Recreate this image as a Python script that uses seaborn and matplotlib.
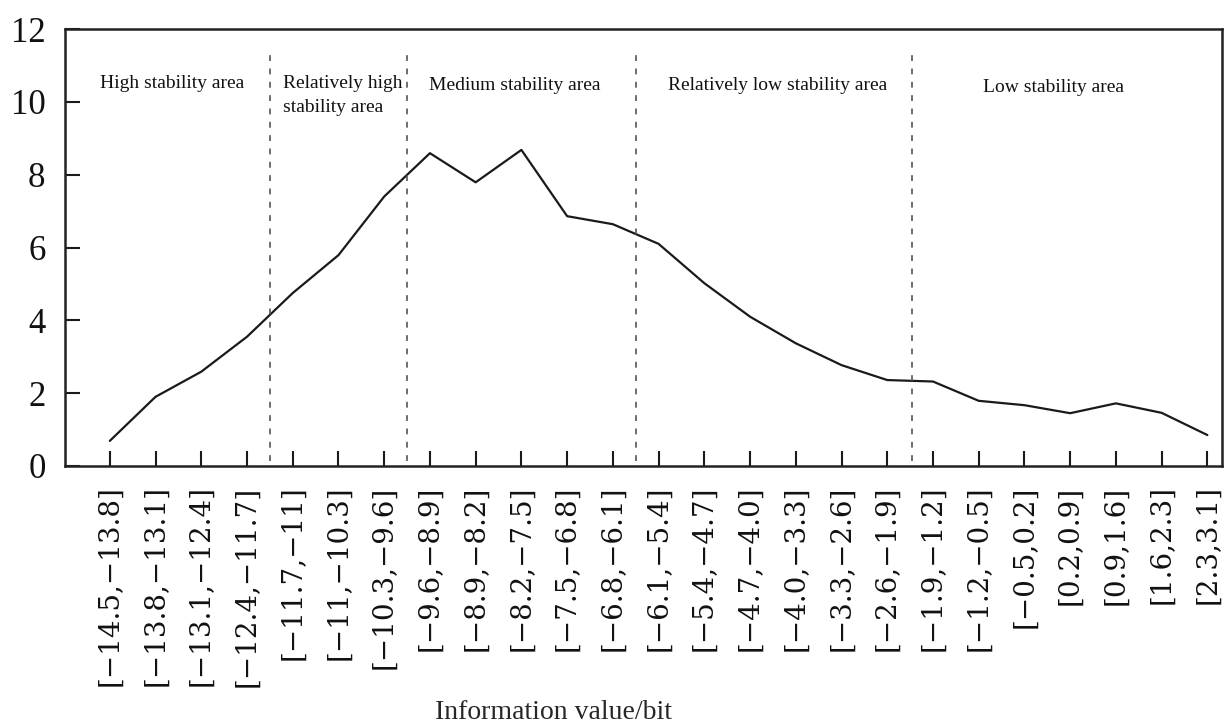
import numpy as np
import pandas as pd
import matplotlib
matplotlib.use("Agg")
import matplotlib.pyplot as plt
import seaborn as sns

# ---- data ----
intervals = ["[−14.5,−13.8]", "[−13.8,−13.1]", "[−13.1,−12.4]", "[−12.4,−11.7]",
             "[−11.7,−11]", "[−11,−10.3]", "[−10.3,−9.6]", "[−9.6,−8.9]",
             "[−8.9,−8.2]", "[−8.2,−7.5]", "[−7.5,−6.8]", "[−6.8,−6.1]",
             "[−6.1,−5.4]", "[−5.4,−4.7]", "[−4.7,−4.0]", "[−4.0,−3.3]",
             "[−3.3,−2.6]", "[−2.6,−1.9]", "[−1.9,−1.2]", "[−1.2,−0.5]",
             "[−0.5,0.2]", "[0.2,0.9]", "[0.9,1.6]", "[1.6,2.3]", "[2.3,3.1]"]
values = [0.69, 1.90, 2.59, 3.55, 4.75, 5.79, 7.40, 8.59, 7.79, 8.68,
          6.86, 6.64, 6.10, 5.02, 4.10, 3.37, 2.77, 2.36, 2.32, 1.79,
          1.67, 1.45, 1.72, 1.46, 0.85]
boundaries = [3.5, 6.5, 11.5, 17.55]
area_names = ["High stability area", "Relatively high\nstability area",
              "Medium stability area", "Relatively low stability area",
              "Low stability area"]
area_x = [-0.22, 3.78, 6.98, 12.2, 19.09]
area_y = [10.49, 10.17, 10.46, 10.46, 10.38]
y_ticks = [0, 2, 4, 6, 8, 10, 12]
x_title = "Information value/bit"

df = pd.DataFrame({"idx": np.arange(len(intervals)), "value": values})

sns.set_style("white")
plt.rcParams["font.family"] = ["Liberation Serif", "DejaVu Serif"]

fig = plt.figure(figsize=(12.32, 7.27), dpi=100)
ax = fig.add_axes([65/1232, 1-466/727, (1222-65)/1232, (466-29)/727])

sns.lineplot(data=df, x="idx", y="value", ax=ax, color="#1a1a1a", linewidth=1.6)

for b in boundaries:
    ax.plot([b, b], [0.15, 11.3], color="#555555", linewidth=1.2,
            linestyle=(0, (3.5, 4.5)))

for name, tx, ty in zip(area_names, area_x, area_y):
    ax.text(tx, ty, name, fontsize=14, ha="left", va="center",
            color="#111111", linespacing=1.5)

ax.set_xlim(-0.98, 24.32)
ax.set_ylim(0, 12)
ax.set_yticks(y_ticks)
ax.set_yticklabels([str(t) for t in y_ticks], fontsize=25)
ax.set_xticks(df["idx"])
ax.set_xticklabels(intervals, rotation=90, fontsize=20, family="DejaVu Serif")

ax.tick_params(axis="both", direction="in", length=11, width=1.5,
               color="#1a1a1a", labelcolor="#111111")
ax.tick_params(axis="x", pad=14, bottom=True, top=False)
ax.tick_params(axis="y", pad=14, left=True, right=False)

for s in ax.spines.values():
    s.set_color("#222222")
    s.set_linewidth(1.8)

ax.set_xlabel(x_title, fontsize=20)
ax.set_ylabel("")
ax.xaxis.set_label_coords(0.422, -0.535)

fig.savefig("out.png", dpi=100, facecolor="white")
